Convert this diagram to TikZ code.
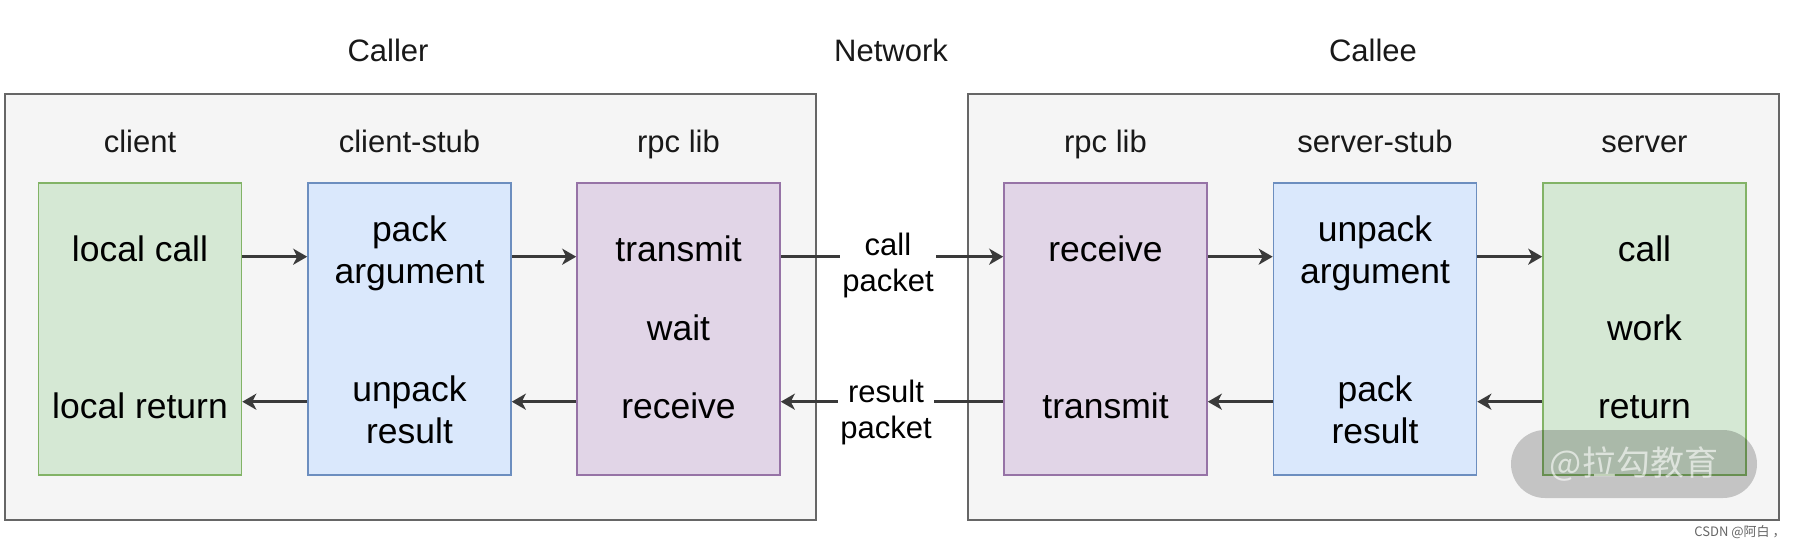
\documentclass[tikz,border=0pt]{standalone}
\usepackage{fontspec}
\setmainfont{Liberation Sans}
\newfontfamily\cjk{Noto Sans CJK SC}
\usetikzlibrary{arrows.meta}
\definecolor{gfill}{HTML}{D5E8D4}\definecolor{gline}{HTML}{82B366}
\definecolor{bfill}{HTML}{DAE8FC}\definecolor{bline}{HTML}{6C8EBF}
\definecolor{pfill}{HTML}{E1D5E7}\definecolor{pline}{HTML}{9673A6}
\definecolor{cfill}{HTML}{F5F5F5}\definecolor{cline}{HTML}{666666}
\definecolor{arrc}{HTML}{3A3A3A}
\tikzset{
  container/.style={draw=cline, fill=cfill, line width=1pt, minimum width=405.5pt, minimum height=213pt, inner sep=0pt},
  box/.style={line width=0.8pt, minimum width=101.5pt, minimum height=146pt, inner sep=0pt},
  gbox/.style={box, draw=gline, fill=gfill},
  bbox/.style={box, draw=bline, fill=bfill},
  pbox/.style={box, draw=pline, fill=pfill},
  btext/.style={align=center, inner sep=0pt, font=\fontsize{17.75}{21}\selectfont},
  bone/.style={btext, text height=12.8pt, text depth=0pt},
  lbl/.style={inner sep=0pt, font=\fontsize{15.5}{18}\selectfont, text=black!90, text height=11.2pt, text depth=0pt},
  arr/.style={draw=arrc, line width=1.3pt, -{Stealth[length=7pt,width=8pt,inset=2pt]}},
  netlbl/.style={fill=white, align=center, inner xsep=1pt, inner ysep=0pt, font=\fontsize{15.5}{17.8}\selectfont}
}
\begin{document}
\begin{tikzpicture}[x=0.5pt,y=-0.5pt]
\useasboundingbox (0,0) rectangle (1796,547);
\fill[white] (0,0) rectangle (1796,547);
% titles
\node[lbl] (tcaller) at (388,50) {Caller};
\node[lbl] (tnet) at (891,50) {Network};
\node[lbl] (tcallee) at (1373,50) {Callee};
% containers
\node[container] (L) at (410.5,307) {};
\node[container] (R) at (1373,307) {};
% column labels
\node[lbl] (lcl) at (140,141) {client};
\node[lbl] (lcs) at (409.5,141) {client-stub};
\node[lbl] (lrl) at (678.5,141) {rpc lib};
\node[lbl] (lrr) at (1105.5,141) {rpc lib};
\node[lbl] (lss) at (1375,141) {server-stub};
\node[lbl] (lsv) at (1644.5,141) {server};
% boxes
\node[gbox] (cl) at (140,329) {};
\node[bbox] (cs) at (409.5,329) {};
\node[pbox] (rl) at (678.5,329) {};
\node[pbox] (rr) at (1105.5,329) {};
\node[bbox] (ss) at (1375,329) {};
\node[gbox] (sv) at (1644.5,329) {};
% box texts
\node[bone] (t1) at (140,248.5) {local call};
\node[bone] (t2) at (140,405.5) {local return};
\node[btext] (t3) at (409.5,253) {pack\\argument};
\node[btext] (t4) at (409.5,410) {unpack\\result};
\node[bone] (t5) at (678.5,248.5) {transmit};
\node[bone] (t6) at (678.5,327.5) {wait};
\node[bone] (t7) at (678.5,405.5) {receive};
\node[bone] (t8) at (1105.5,248.5) {receive};
\node[bone] (t9) at (1105.5,405.5) {transmit};
\node[btext] (t10) at (1375,253) {unpack\\argument};
\node[btext] (t11) at (1375,410) {pack\\result};
\node[bone] (t12) at (1644.5,248.5) {call};
\node[bone] (t13) at (1644.5,327.5) {work};
\node[bone] (t14) at (1644.5,405.5) {return};
% arrows top
\draw[arr] (cl.east |- 0,256.7) -- (cs.west |- 0,256.7);
\draw[arr] (cs.east |- 0,256.7) -- (rl.west |- 0,256.7);
\draw[arr] (rl.east |- 0,256.7) -- node[netlbl, xshift=-2pt, yshift=-4.5pt] (np1) {call\\packet} (rr.west |- 0,256.7);
\draw[arr] (rr.east |- 0,256.7) -- (ss.west |- 0,256.7);
\draw[arr] (ss.east |- 0,256.7) -- (sv.west |- 0,256.7);
% arrows bottom
\draw[arr] (cs.west |- 0,401.7) -- (cl.east |- 0,401.7);
\draw[arr] (rl.west |- 0,401.7) -- (cs.east |- 0,401.7);
\draw[arr] (rr.west |- 0,401.7) -- node[netlbl, xshift=-3pt, yshift=-5.5pt] (np2) {result\\packet} (rl.east |- 0,401.7);
\draw[arr] (ss.west |- 0,401.7) -- (rr.east |- 0,401.7);
\draw[arr] (sv.west |- 0,401.7) -- (ss.east |- 0,401.7);
% watermark
\fill[black, opacity=0.2, rounded corners=17pt] (1511,430) rectangle (1757,498);
\node[text=white, opacity=0.6, inner sep=0pt, font=\fontsize{17}{20}\selectfont\cjk] (wm) at (1634,464) {@拉勾教育};
\node[anchor=east, text=black!60, inner sep=0pt, font=\fontsize{6.5}{8}\selectfont\cjk] (csdn) at (1786,532) {CSDN @阿白 ，};
\end{tikzpicture}
\end{document}
